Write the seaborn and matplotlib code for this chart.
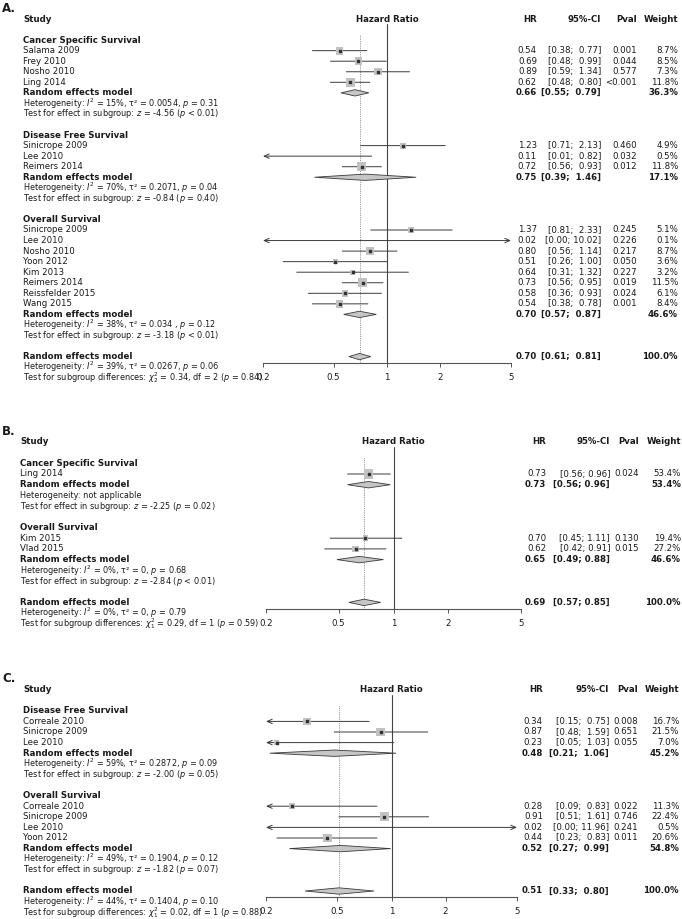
import numpy as np
import pandas as pd
import matplotlib
matplotlib.use("Agg")
import matplotlib.pyplot as plt
import matplotlib.transforms as mtransforms
from matplotlib.patches import Polygon
from matplotlib.ticker import NullLocator
import seaborn as sns

W, H = 682, 919

# ---------------- panel A ----------------
a_group_names = ["Cancer Specific Survival", "Disease Free Survival", "Overall Survival"]
a_group_sizes = [4, 3, 8]
a_studies = ["Salama 2009", "Frey 2010", "Nosho 2010", "Ling 2014",
             "Sinicrope 2009", "Lee 2010", "Reimers 2014",
             "Sinicrope 2009", "Lee 2010", "Nosho 2010", "Yoon 2012", "Kim 2013",
             "Reimers 2014", "Reissfelder 2015", "Wang 2015"]
a_hr = [0.54, 0.69, 0.89, 0.62, 1.23, 0.11, 0.72, 1.37, 0.02, 0.80, 0.51, 0.64, 0.73, 0.58, 0.54]
a_lo = [0.38, 0.48, 0.59, 0.48, 0.71, 0.01, 0.56, 0.81, 0.00, 0.56, 0.26, 0.31, 0.56, 0.36, 0.38]
a_hi = [0.77, 0.99, 1.34, 0.80, 2.13, 0.82, 0.93, 2.33, 10.02, 1.14, 1.00, 1.32, 0.95, 0.93, 0.78]
a_pval = ["0.001", "0.044", "0.577", "<0.001", "0.460", "0.032", "0.012",
          "0.245", "0.226", "0.217", "0.050", "0.227", "0.019", "0.024", "0.001"]
a_weight = [8.7, 8.5, 7.3, 11.8, 4.9, 0.5, 11.8, 5.1, 0.1, 8.7, 3.6, 3.2, 11.5, 6.1, 8.4]
a_group_hr = [0.66, 0.75, 0.70]
a_group_lo = [0.55, 0.39, 0.57]
a_group_hi = [0.79, 1.46, 0.87]
a_group_weight = [36.3, 17.1, 46.6]
a_group_het = [r"Heterogeneity: $I^2$ = 15%, τ² = 0.0054, $p$ = 0.31",
               r"Heterogeneity: $I^2$ = 70%, τ² = 0.2071, $p$ = 0.04",
               r"Heterogeneity: $I^2$ = 38%, τ² = 0.034 , $p$ = 0.12"]
a_group_test = [r"Test for effect in subgroup: $z$ = -4.56 ($p$ < 0.01)",
                r"Test for effect in subgroup: $z$ = -0.84 ($p$ = 0.40)",
                r"Test for effect in subgroup: $z$ = -3.18 ($p$ < 0.01)"]
a_overall = [0.70, 0.61, 0.81]
a_overall_het = r"Heterogeneity: $I^2$ = 39%, τ² = 0.0267, $p$ = 0.06"
a_overall_test = r"Test for subgroup differences: $\chi^2_2$ = 0.34, df = 2 ($p$ = 0.84)"

# ---------------- panel B ----------------
b_group_names = ["Cancer Specific Survival", "Overall Survival"]
b_group_sizes = [1, 2]
b_studies = ["Ling 2014", "Kim 2015", "Vlad 2015"]
b_hr = [0.73, 0.70, 0.62]
b_lo = [0.56, 0.45, 0.42]
b_hi = [0.96, 1.11, 0.91]
b_pval = ["0.024", "0.130", "0.015"]
b_weight = [53.4, 19.4, 27.2]
b_group_hr = [0.73, 0.65]
b_group_lo = [0.56, 0.49]
b_group_hi = [0.96, 0.88]
b_group_weight = [53.4, 46.6]
b_group_het = ["Heterogeneity: not applicable",
               r"Heterogeneity: $I^2$ = 0%, τ² = 0, $p$ = 0.68"]
b_group_test = [r"Test for effect in subgroup: $z$ = -2.25 ($p$ = 0.02)",
                r"Test for effect in subgroup: $z$ = -2.84 ($p$ < 0.01)"]
b_overall = [0.69, 0.57, 0.85]
b_overall_het = r"Heterogeneity: $I^2$ = 0%, τ² = 0, $p$ = 0.79"
b_overall_test = r"Test for subgroup differences: $\chi^2_1$ = 0.29, df = 1 ($p$ = 0.59)"

# ---------------- panel C ----------------
c_group_names = ["Disease Free Survival", "Overall Survival"]
c_group_sizes = [3, 4]
c_studies = ["Correale 2010", "Sinicrope 2009", "Lee 2010",
             "Correale 2010", "Sinicrope 2009", "Lee 2010", "Yoon 2012"]
c_hr = [0.34, 0.87, 0.23, 0.28, 0.91, 0.02, 0.44]
c_lo = [0.15, 0.48, 0.05, 0.09, 0.51, 0.00, 0.23]
c_hi = [0.75, 1.59, 1.03, 0.83, 1.61, 11.96, 0.83]
c_pval = ["0.008", "0.651", "0.055", "0.022", "0.746", "0.241", "0.011"]
c_weight = [16.7, 21.5, 7.0, 11.3, 22.4, 0.5, 20.6]
c_group_hr = [0.48, 0.52]
c_group_lo = [0.21, 0.27]
c_group_hi = [1.06, 0.99]
c_group_weight = [45.2, 54.8]
c_group_het = [r"Heterogeneity: $I^2$ = 59%, τ² = 0.2872, $p$ = 0.09",
               r"Heterogeneity: $I^2$ = 49%, τ² = 0.1904, $p$ = 0.12"]
c_group_test = [r"Test for effect in subgroup: $z$ = -2.00 ($p$ = 0.05)",
                r"Test for effect in subgroup: $z$ = -1.82 ($p$ = 0.07)"]
c_overall = [0.51, 0.33, 0.80]
c_overall_het = r"Heterogeneity: $I^2$ = 44%, τ² = 0.1404, $p$ = 0.10"
c_overall_test = r"Test for subgroup differences: $\chi^2_1$ = 0.02, df = 1 ($p$ = 0.88)"

tick_values = [0.2, 0.5, 1, 2, 5]
tick_labels = ["0.2", "0.5", "1", "2", "5"]

sns.set_theme(style="ticks")
plt.rcParams["font.family"] = ["DejaVu Sans"]
plt.rcParams["mathtext.fontset"] = "dejavusans"

TXT = "#1a1a1a"
LINE = "#3a3a3a"
SQ = "#c2c2c2"
DIA = "#c6c6c6"
FS = 6.25
FS_SMALL = 5.85
XMIN, XMAX = 0.2, 5

fig = plt.figure(figsize=(W / 100, H / 100), dpi=100)


def build_rows(group_sizes):
    headers, study_rows, re_rows = [], [], []
    r = 0
    for n in group_sizes:
        headers.append(r)
        r += 1
        study_rows += list(range(r, r + n))
        r += n
        re_rows.append(r)
        r += 4
    return headers, study_rows, re_rows, r


def ci_text(lo, hi, width):
    return f"[{lo:.2f}; {hi:>{width}.2f}]"


def ci_line(ax, lo, hi, y):
    left, right = max(lo, XMIN), min(hi, XMAX)
    la, ra = lo < XMIN, hi > XMAX
    style = {(False, False): "-", (True, False): "->", (False, True): "<-", (True, True): "<->"}[(la, ra)]
    if style != "-":
        style += ",head_length=0.3,head_width=0.13"
    ax.annotate("", xy=(left, y), xytext=(right, y),
                arrowprops=dict(arrowstyle=style, lw=0.7, color=LINE, shrinkA=0, shrinkB=0),
                zorder=2, annotation_clip=False)


def diamond(ax, hr, lo, hi, y, h=0.3):
    pts = [(lo, y), (hr, y - h), (hi, y), (hr, y + h)]
    ax.add_patch(Polygon(pts, closed=True, facecolor=DIA, edgecolor=LINE, lw=0.6, zorder=3))


def draw_panel(letter, layout, group_names, group_sizes, studies, hr, lo, hi, pval, weight,
               g_hr, g_lo, g_hi, g_w, g_het, g_test, overall, o_het, o_test):
    row0, sp, x02, x5, lab_x, cols = layout
    headers, study_rows, re_rows, o_row = build_rows(group_sizes)
    top_r, bot_r = -2.6, o_row + 0.6
    ytop, ybot = row0 + top_r * sp, row0 + bot_r * sp
    ax = fig.add_axes([x02 / W, 1 - ybot / H, (x5 - x02) / W, (ybot - ytop) / H])

    df = pd.DataFrame({"hr": hr, "row": study_rows, "weight": weight})
    inside = df[(df["hr"] > XMIN) & (df["hr"] < XMAX)]
    max_w = max(weight)
    sns.scatterplot(data=inside, x="hr", y="row", size="weight", sizes=(0, 42),
                    size_norm=(0, max_w), marker="s", color=SQ, linewidth=0,
                    legend=False, ax=ax, zorder=3)
    ax.scatter(inside["hr"], inside["row"], marker="s", s=0.7, color="#333333", zorder=4)

    for l, h, r in zip(lo, hi, study_rows):
        ci_line(ax, l, h, r)
    for gh, gl, gu, r in zip(g_hr, g_lo, g_hi, re_rows):
        diamond(ax, gh, gl, gu, r)
    diamond(ax, overall[0], overall[1], overall[2], o_row)

    ax.plot([1, 1], [-1.5, bot_r], color="#444444", lw=0.8, zorder=1)
    ax.plot([overall[0], overall[0]], [-0.5, bot_r], color="#777777", lw=0.6,
            ls=(0, (1, 1.2)), zorder=1)

    ax.set_xscale("log")
    ax.set_xlim(XMIN, XMAX)
    ax.set_ylim(bot_r, top_r)
    ax.set_xticks(tick_values)
    ax.set_xticklabels(tick_labels)
    ax.xaxis.set_minor_locator(NullLocator())
    ax.set_yticks([])
    ax.set_xlabel("")
    ax.set_ylabel("")
    for s in ["left", "right", "top"]:
        ax.spines[s].set_visible(False)
    ax.spines["bottom"].set_linewidth(0.8)
    ax.spines["bottom"].set_color("#555555")
    ax.tick_params(axis="x", direction="out", length=3, width=0.7, color="#555555",
                   pad=4.3, labelsize=FS, labelcolor=TXT)
    ax.patch.set_alpha(0)

    tr = mtransforms.blended_transform_factory(fig.transFigure, ax.transData)

    def put(px, r, s, ha="left", bold=False, size=FS):
        ax.text(px / W, r, s, transform=tr, ha=ha, va="center", fontsize=size,
                fontweight="bold" if bold else "normal", color=TXT)

    ax.text(0.003, -3.0, letter, transform=tr, ha="left", va="center",
            fontsize=8.5, fontweight="bold", color=TXT)
    put(lab_x, -2, "Study", bold=True)
    ax.text(1, -2, "Hazard Ratio", ha="center", va="center", fontsize=FS,
            fontweight="bold", color=TXT)
    hr_c, ci_c, p_c, w_c = cols
    put(hr_c, -2, "HR", ha="right", bold=True)
    put(ci_c, -2, "95%-CI", ha="right", bold=True)
    put(p_c, -2, "Pval", ha="right", bold=True)
    put(w_c, -2, "Weight", ha="right", bold=True)

    wd = max(len(f"{v:.2f}") for v in list(hi) + list(g_hi) + [overall[2]])

    for name, r in zip(group_names, headers):
        put(lab_x, r, name, bold=True)
    for i, r in enumerate(study_rows):
        put(lab_x, r, studies[i])
        put(hr_c, r, f"{hr[i]:.2f}", ha="right")
        put(ci_c, r, ci_text(lo[i], hi[i], wd), ha="right")
        put(p_c, r, pval[i], ha="right")
        put(w_c, r, f"{weight[i]:.1f}%", ha="right")
    for i, r in enumerate(re_rows):
        put(lab_x, r, "Random effects model", bold=True)
        put(hr_c, r, f"{g_hr[i]:.2f}", ha="right", bold=True)
        put(ci_c, r, ci_text(g_lo[i], g_hi[i], wd), ha="right", bold=True)
        put(w_c, r, f"{g_w[i]:.1f}%", ha="right", bold=True)
        put(lab_x, r + 1, g_het[i], size=FS_SMALL)
        put(lab_x, r + 2, g_test[i], size=FS_SMALL)
    put(lab_x, o_row, "Random effects model", bold=True)
    put(hr_c, o_row, f"{overall[0]:.2f}", ha="right", bold=True)
    put(ci_c, o_row, ci_text(overall[1], overall[2], wd), ha="right", bold=True)
    put(w_c, o_row, "100.0%", ha="right", bold=True)
    put(lab_x, o_row + 1, o_het, size=FS_SMALL)
    put(lab_x, o_row + 2, o_test, size=FS_SMALL)


draw_panel("A.", (40.1, 10.55, 263, 511, 23, (537, 601, 637, 678)),
           a_group_names, a_group_sizes, a_studies, a_hr, a_lo, a_hi, a_pval, a_weight,
           a_group_hr, a_group_lo, a_group_hi, a_group_weight, a_group_het, a_group_test,
           a_overall, a_overall_het, a_overall_test)
draw_panel("B.", (463.3, 10.7, 266, 521, 20, (546, 610, 639, 681)),
           b_group_names, b_group_sizes, b_studies, b_hr, b_lo, b_hi, b_pval, b_weight,
           b_group_hr, b_group_lo, b_group_hi, b_group_weight, b_group_het, b_group_test,
           b_overall, b_overall_het, b_overall_test)
draw_panel("C.", (710.8, 10.6, 266, 517, 23, (543, 609, 638, 679)),
           c_group_names, c_group_sizes, c_studies, c_hr, c_lo, c_hi, c_pval, c_weight,
           c_group_hr, c_group_lo, c_group_hi, c_group_weight, c_group_het, c_group_test,
           c_overall, c_overall_het, c_overall_test)

fig.savefig("out.png", dpi=100, facecolor="white")
